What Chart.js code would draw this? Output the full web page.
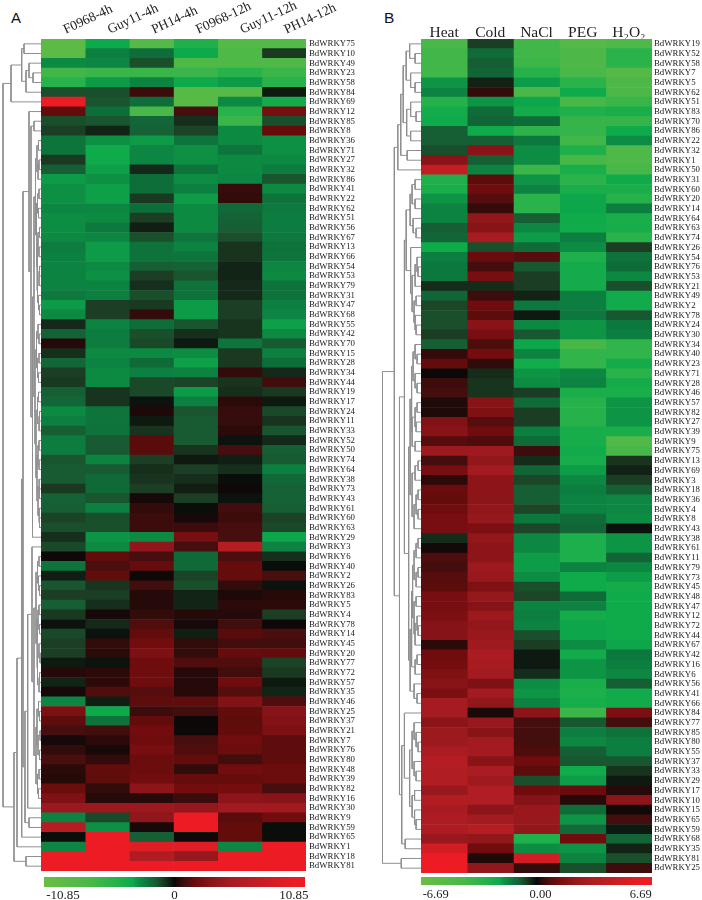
<!DOCTYPE html>
<html lang="en">
<head>
    <meta charset="UTF-8">
    <title>BdWRKY expression heatmaps</title>
    <script src="https://cdn.jsdelivr.net/npm/chart.js"></script>
    <style>
        html, body { margin: 0; background: #fff; width: 702px; height: 900px; overflow: hidden; }
        canvas { position: absolute; }
        .letter { position: absolute; font-family: "Liberation Sans", sans-serif; color: #111; }
    </style>
</head>
<body>
<div class="letter" style="left:11px;top:9px;font-size:15px">A</div>
<div class="letter" style="left:384px;top:9px;font-size:15.5px">B</div>
<canvas id="dendroA" width="41" height="832" style="left:0;top:39px"></canvas>
<canvas id="heatA" width="316" height="871" style="left:41px;top:0"></canvas>
<canvas id="barA" width="281" height="23" style="left:34px;top:877px"></canvas>
<canvas id="dendroB" width="39" height="834" style="left:382px;top:39px"></canvas>
<canvas id="heatB" width="281" height="873" style="left:421px;top:0"></canvas>
<canvas id="barB" width="251" height="23" style="left:411px;top:877px"></canvas>
<script>
    const columnsA = ['F0968-4h', 'Guy11-4h', 'PH14-4h', 'F0968-12h', 'Guy11-12h', 'PH14-12h'];
    const columnsB = ['Heat', 'Cold', 'NaCl', 'PEG', 'H₂O₂'];

    const genesA = [75, 10, 49, 23, 58, 84, 69, 12, 85, 8, 36, 71, 27, 32, 86, 41, 22, 62, 51, 56, 67, 13, 66, 54, 53, 79, 31, 47, 68, 55, 42, 70, 15, 28, 34, 44, 19, 17, 24, 11, 33, 52, 50, 74, 64, 38, 73, 43, 61, 60, 63, 29, 3, 6, 40, 2, 26, 83, 5, 4, 78, 14, 45, 20, 77, 72, 57, 35, 46, 25, 37, 21, 7, 76, 80, 48, 39, 82, 16, 30, 9, 59, 65, 1, 18, 81];
    const genesB = [19, 52, 58, 7, 5, 62, 51, 83, 70, 86, 22, 32, 1, 50, 31, 60, 20, 14, 64, 63, 74, 26, 54, 76, 53, 21, 49, 2, 78, 24, 30, 34, 40, 23, 71, 28, 46, 57, 82, 27, 39, 9, 75, 13, 69, 3, 18, 36, 4, 8, 43, 38, 61, 11, 79, 73, 45, 48, 47, 12, 72, 44, 67, 42, 16, 6, 56, 41, 66, 84, 77, 85, 80, 55, 37, 33, 29, 17, 10, 15, 65, 59, 68, 35, 81, 25];

    const rangeA = 10.85;
    const rangeB = 6.69;
    // the printed scale labels sit a little inside the bar ends
    const barTicksA = [-9.27, 0, 9.93];
    const barTickTextA = ['-10.85', '0', '10.85'];
    const barTicksB = [-5.84, 0.23, 6.04];
    const barTickTextB = ['-6.69', '0.00', '6.69'];

    // one row per gene
    const valuesA = [
        [-9, -3.5, -8, -4.5, -8, -8], [-9, -2.5, -2, -3.5, -7.5, -0.9], [-2.8, -2.7, -1.3, -7.5, -7.5, -7.5],
        [-6.5, -6, -6, -6, -5, -6], [-5, -3.2, -2.6, -3.5, -3.2, -5], [-1.3, -1.3, 0.8, -8.5, -8.5, -0.3],
        [10.85, -1.4, -2, -8.5, -2.8, -3.8], [1.6, -2, -7, 1, -5, 2.2], [-1.3, -1.4, -1.8, -0.7, -6, -1.3],
        [-1, -0.5, -1.7, -1.1, -2.8, 1.7], [-2.2, -3, -3.2, -2.2, -2.8, -3], [-2.2, -3.6, -2.7, -3, -2.2, -3],
        [-0.9, -3.6, -2.7, -3, -2.8, -2.8], [-1.6, -3.3, -0.6, -2.1, -2.8, -2.4], [-3.2, -3, -2, -2.9, -2.7, -1.4],
        [-3, -3.3, -2, -2.5, 0.7, -2.8], [-3, -3.3, -0.9, -3.2, 0.6, -2.1], [-2.7, -2.7, -2, -2.8, -1.9, -2.3],
        [-2.9, -2.8, -1, -2.8, -1.7, -2.4], [-2.9, -2.3, -0.4, -2.8, -1.6, -2.4], [-2.8, -2.7, -1.3, -2.2, -1.3, -2.3],
        [-2.4, -3.2, -2.1, -2.6, -0.8, -2.1], [-2.5, -3.2, -2.1, -2.2, -0.8, -2.2], [-2.6, -2.8, -1.6, -1.7, -0.5, -2.7],
        [-2.6, -3, -1, -1.4, -0.5, -2.8], [-2.6, -2.6, -0.7, -2.1, -0.6, -2.1], [-2.3, -2.5, -1.3, -2.1, -0.6, -2.1],
        [-3.2, -1, -0.9, -3.2, -1, -2.5], [-2.8, -1, 0.6, -3.2, -1, -2.7], [-0.6, -2.6, -2, -1.4, -0.8, -3.3],
        [-1.7, -2.4, -1.3, -0.7, -0.8, -2.8], [0.4, -2.4, -1.2, -0.3, -2.2, -1.5], [-0.7, -2.8, -2.8, -2.9, -0.9, -2.5],
        [-1.8, -2.6, -1.9, -3.3, -0.9, -2], [-1, -2.8, -2.5, -2.6, 0.6, -0.6], [-0.9, -2.8, -1.2, -1.1, -0.8, 0.9],
        [-1.6, -0.8, -1.2, -3.2, -0.7, -0.9], [-1.8, -0.8, -0.2, -2.5, 0.5, -0.3], [-2.8, -2.2, 0.3, -1.4, 0.7, -1.2],
        [-2.5, -2.2, -0.3, -1.5, 0.7, -0.8], [-1.6, -2.1, -0.8, -1.5, 0.5, -1.4], [-2.4, -1.5, 1.4, -1.5, -0.2, -0.6],
        [-2.4, -1.5, 1.4, -0.8, 1, -1.6], [-1.4, -2.6, -1, -0.3, -0.4, -1.5], [-1.5, -1.5, -0.7, -1, -0.7, -2.5],
        [-1.5, -1.9, -0.8, -0.7, -0.1, -1.9], [-0.9, -1.9, -1, -0.4, 0.1, -1.7], [-1.7, -1.4, 0.2, -1, -0.2, -1.7],
        [-1.6, -2.5, 0.6, -0.1, 0.9, -1.6], [-1.1, -1.3, 0.8, 0.2, 0.8, -1.1], [-1.3, -1.3, 0.8, 0.8, 1, -1.2],
        [-0.7, -3.1, -2.8, 2.2, 1, -3.4], [-1.2, -2.8, 3.5, 1, 5.8, -2.6], [0.1, 1.6, 1, -1.9, 1.1, -0.7],
        [-2.2, 1.1, 1.7, -1.9, 1.7, -0.1], [-0.4, 1.6, 0.1, -1.1, 1.7, 1.1], [-1.4, -0.8, 0.9, -1.3, 0.6, -0.2],
        [-1, -1, 0.4, -0.5, 0.3, 0.4], [-1.6, -0.7, 0.4, -0.5, 0.5, 0.5], [-0.9, 0.2, 0.6, 0.4, 0.4, -1],
        [-0.2, -0.6, 1.2, 0.2, 0.9, 0.1], [-1.2, -0.2, 1.6, -0.4, 1.4, 1.1], [-1, 0.6, 2, 0.6, 0.9, 0.9],
        [-1, 0.5, 2.5, 0.6, 1.7, 1.6], [-0.3, -0.2, 1.9, 1.2, 1.2, -1.1], [0.4, 0.5, 1.9, 0.4, 0.9, -0.9],
        [-0.5, 0.5, 1.9, 0.4, 1.9, -0.3], [0.2, 1.2, 1.3, 0.4, 1.3, -0.5], [-2.7, -0.4, 1.5, 1.5, 2.8, 1.2],
        [2.5, -3.5, 0.8, 0.9, 1.6, 3], [1.5, -2.1, 1.6, 0.05, 1.5, 2.8], [1, 0.9, 2, 0.1, 1.6, 2.5],
        [0.2, 0.5, 1.9, 1, 2, 1.5], [0.6, 0.2, 2.3, 1.2, 1.8, 1.5], [1.1, 0.6, 1.8, 1.6, 0.9, 1.5],
        [0.5, 1.6, 1.8, 0.6, 2, 1.8], [0.4, 1.5, 2, 1.7, 1.7, 1.8], [1.8, 0.6, 3.3, 2, 2.1, 1],
        [2.6, 0.4, 0.4, 0.8, 3.2, 3], [4, 4, 4, 3.7, 4.5, 4.5], [-2.6, -1.2, 3.4, 10.85, 1.4, 2],
        [6, -3, 0.2, 10.85, 1.6, -0.1], [-0.1, 10.85, -1.6, 0.1, 1.6, -0.1], [-2.7, 10.85, 9, 9, -2.7, 10.85],
        [10.85, 10.85, 5.5, 3.8, 10.85, 10.85], [10.85, 10.85, 10.85, 10.85, 10.85, 10.85]
    ];
    const valuesB = [
        [-4.3, -0.6, -4, -5, -4.6], [-4, -1.2, -4, -4.5, -3.2], [-4, -1, -3.8, -4.5, -3.2], [-4, -1.1, -3, -4.3, -5],
        [-1.9, -0.3, -2, -3.2, -4.5], [-1.6, 0.4, -4.3, -2.2, -4.5], [-3, -1.9, -2.1, -4.2, -3.7], [-2.4, -1.2, -2.4, -2.8, -2.6],
        [-2.2, -1.1, -1.2, -3.6, -3.6], [-1, -2.2, -3.3, -3.5, -2.2], [-1, -1, -1.4, -4, -1.8], [-0.8, 1.9, -1.8, -2.8, -4.6],
        [1.9, -1, -1.8, -4.2, -4.6], [4.3, -1.6, -3.8, -2.6, -4.2], [-2.8, 0.9, -1.9, -3.2, -2.2], [-2.6, 1.2, -1.6, -2.6, -2.6],
        [-1.9, 0.8, -3.2, -2.1, -3], [-1.6, 0.4, -3.2, -2.1, -1.5], [-1.6, 2.2, -1, -2.2, -2.6], [-1, 1.9, -1.7, -2.3, -2.5],
        [-1.1, 3, -2, -1.5, -3.2], [-2.2, -0.8, -1.2, -1.8, -0.6], [-1.5, 1.1, 0.8, -2.8, -1.3], [-1.4, 0.6, -0.9, -2.4, -1.2],
        [-1.4, 1.4, -0.6, -2.4, -1.7], [-0.4, -0.4, -0.6, -2.4, -0.8], [-1.1, 0.5, -0.3, -1.5, -2.3], [-0.7, 1.2, -1.4, -1.5, -2.3],
        [-0.8, 0.9, -0.2, -1.4, -0.9], [-0.8, 1.9, -1.7, -1.9, -1.4], [-0.6, 1.4, -0.9, -1.9, -1.5], [-1, 0.7, -2.1, -4.2, -3.4],
        [0.4, 1.3, -1.6, -3.4, -3.4], [1, 0.35, -2.4, -3.4, -2.4], [0.03, -0.4, -1.9, -1.7, -3.2], [0.5, -0.5, -1.8, -1.6, -2.4],
        [0.6, -0.5, -0.6, -2.6, -2.6], [0.2, 1.9, -1.2, -3, -1.9], [0.2, 1.6, -0.6, -3, -1.9], [1.7, 0.8, -0.6, -3, -1.9],
        [1.9, 1.2, -1.5, -2.5, -2.6], [0.8, 0.7, -1.2, -2.5, -4.8], [2.5, 2.6, 0.5, -2.3, -4.2], [0.6, 2.2, -0.4, -2.5, -0.5],
        [1.4, 2.8, -1.1, -2, -0.3], [0.3, 2, -0.7, -1.7, -0.6], [1.1, 2, -1, -1.5, -1], [1, 2, -1, -1.6, -1.7],
        [1.2, 2.2, -0.7, -1.6, -1.7], [1.4, 2.3, -1.4, -1.2, -1.8], [1.4, 1.5, -0.7, -1.1, -0.1], [-0.4, 2.2, -1.7, -2.7, -1.9],
        [0.1, 2, -1.7, -2.7, -1.9], [0.7, 2, -2, -2.7, -1.1], [0.6, 2.5, -2, -1.6, -1.7], [0.8, 2.4, -1.8, -2.2, -2],
        [0.9, 1.6, -0.8, -2.2, -2.4], [1.4, 2.3, -0.7, -1.2, -2.2], [1.4, 1.8, -1.6, -1.6, -2.2], [1.5, 2.5, -1.5, -2.4, -2.2],
        [1.8, 2.2, -1.6, -2.1, -2.2], [1.8, 2.4, -0.8, -2.1, -2.2], [0.3, 2.6, -0.6, -1.8, -2.1], [1.2, 3.1, -0.2, -2.3, -1.4],
        [1.3, 2.9, -0.2, -1.9, -1.5], [1.6, 2.8, -0.4, -1.9, -1.7], [1.9, 1.6, -1.8, -2.6, -1], [1.5, 2.8, -1.9, -2.7, -2.3],
        [2.9, 2.2, -1.6, -2.5, -2.3], [2.9, 0.15, 2, -3.8, 1.5], [2, 2.4, 0.6, -0.9, 0.6], [2.5, 1.9, 0.6, -1.5, -1.3],
        [2.5, 2.8, 0.6, -1.7, -1.5], [3.1, 2.8, 0.7, -1, -1.5], [3.6, 1.9, 1.2, -0.9, -0.9], [3.4, 3.1, 0.9, -2.3, -0.5],
        [3.5, 2.6, -0.8, -2, -0.2], [2.4, 3.4, 1.2, 1.1, 0.25], [3.5, 3.4, 1.8, 0.25, 2], [3, 2, 2.4, -1.2, 0.1],
        [3.2, 2.8, 2.4, -1.9, 0.6], [3.3, 3.6, 2.2, -1.2, -0.2], [2.4, 2.2, -2.8, 1.2, -1.1], [5, 1.2, -1.8, -1.9, -0.3],
        [6.69, 0.2, 5, -1.6, -0.8], [6.69, 2.2, 0.4, -0.8, 0.5]
    ];

    // cluster trees: [distance, first child, second child], 0 is a leaf (next row down)
    const treeTopA = [30, [19.3, [17, 0, 0], [15, [12, 0, [8, 0, 0]], 0]], 0];
    const treeS1A = [5.5, [4, [2.5, 0, 0], [3, [2, 0, 0], 0]], [4.5, [3.5, [2, 0, 0], [2.5, 0, 0]], [4, [3, [1.5, 0, 0], [2, 0, 0]], [3.5, [2, [1.5, 0, 0], 0], [2.5, 0, [1.5, 0, 0]]]]]];
    const treeS2A = [6, [4.5, [3, 0, [2, 0, 0]], [3.5, [2, 0, 0], [2.5, 0, 0]]], [5, [3.5, [2.5, 0, 0], [2, [1.5, 0, 0], 0]], [4, [3, [2, 0, 0], [2, 0, 0]], [3, [2, 0, [1.5, 0, 0]], [2, 0, [1.5, 0, 0]]]]]];
    const treeQ1A = [5, [3.5, [2, 0, 0], [2.5, 0, [1.5, 0, 0]]], [4, [3, [2, 0, 0], [1.5, 0, 0]], [3.5, [2, 0, [1, 0, 0]], [2, [1.5, 0, 0], 0]]]];
    const treeQ2A = [5, [4, [2.5, 0, [1.5, 0, 0]], [3, [1, 0, 0], [1.5, 0, 0]]], [3.5, [2, 0, 0], [2.5, 0, 0]]];
    const treeMidA = [18,
        [12, 0, [10, [7, 0, 0], [8.5, [7, treeS1A, treeS2A], 0]]],
        [16, [13.3, [9, 0, [7, treeQ1A, treeQ2A]], 0], [12, 0, 0]]];
    const treeA = [38, treeTopA, [27, [24, [19.3, treeMidA, 0], 0], [15, 0, 0]]];

    const treeTopB = [23.5, [20.5, [18,
        [15, [11.5, 0, [6, 0, 0]], [10.5, 0, [6, 0, 0]]],
        [14.5, [10.5, 0, [5, 0, 0]], [10.5, 0, 0]]], [14, 0, 0]], 0];
    const treeC1B = [15, [11, [9, [6, 0, 0], [6, 0, 0]], [8, 0, [5, 0, 0]]],
        [10.5, 0, [9, [6, [4, 0, [3, 0, 0]], 0], [7, [5, 0, 0], [6, 0, [5, 0, 0]]]]]];
    const treeC2aB = [11, [9.5, [8, [6, 0, [4, 0, 0]], [6, 0, [4, 0, 0]]], [9, [6, [4, 0, 0], [5, 0, 0]], [6, 0, 0]]],
        [9, [6, [3, 0, 0], 0], [7, [5, [3, 0, 0], [3, 0, 0]], 0]]];
    const treeC2bB = [11, [9.5, [8.5, [7, [5, [3, 0, 0], 0], [5, [3, 0, 0], 0]], [7, [5, 0, 0], [6, [4, 0, [3, 0, 0]], 0]]], [6, [4, 0, 0], 0]], [7, 0, [4, 0, 0]]];
    const treeBotB = [19.5, [16.8, 0, [11.5, [9, [7, 0, [5, 0, [3, 0, 0]]], [7, 0, [5, 0, 0]]], [9, [6.5, 0, 0], [6.5, 0, [5, 0, 0]]]]], [16, 0, 0]];
    const treeB = [39, [27, treeTopB, [21.8, [16.8, treeC1B, [12.5, treeC2aB, treeC2bB]], treeBotB]], [20, 0, 0]];

    const serif = 'Liberation Serif';
    // colour scale as [fraction of range, r, g, b]
    const colorStops = [
        [-1, 106, 189, 69], [-0.65, 75, 184, 72], [-0.46, 40, 178, 75], [-0.32, 13, 170, 75], [-0.277, 13, 144, 68],
        [-0.23, 12, 128, 64], [-0.184, 14, 110, 58], [-0.138, 24, 90, 50], [-0.092, 28, 62, 36], [-0.046, 18, 36, 22],
        [0, 8, 8, 8], [0.046, 45, 10, 10], [0.092, 70, 14, 14], [0.138, 95, 12, 12], [0.184, 115, 12, 14],
        [0.277, 135, 20, 24], [0.37, 155, 25, 30], [0.46, 170, 28, 33], [0.65, 195, 30, 36], [0.92, 237, 28, 36], [1, 237, 28, 36]
    ];

    function colorFor(v, range) {
        const t = Math.max(-1, Math.min(1, v / range));
        let i = 0;
        while (i < colorStops.length - 2 && colorStops[i + 1][0] < t) i++;
        const a = colorStops[i], b = colorStops[i + 1];
        const f = (t - a[0]) / (b[0] - a[0]);
        const c = [1, 2, 3].map(k => Math.round(a[k] + (b[k] - a[k]) * f));
        return `rgb(${c[0]},${c[1]},${c[2]})`;
    }

    function fixBox(axis, size) {
        if (axis.isHorizontal()) axis.height = size; else axis.width = size;
        axis.paddingLeft = axis.paddingRight = axis.paddingTop = axis.paddingBottom = 0;
    }

    function drawHeat(id, columns, genes, rows, range, opts) {
        new Chart(document.getElementById(id), {
            type: 'bar',
            data: {
                labels: genes.map(n => 'BdWRKY' + n),
                datasets: columns.map((name, c) => ({
                    label: name,
                    data: rows.map(() => 1),
                    backgroundColor: rows.map(r => colorFor(r[c], range)),
                    borderWidth: 0,
                    barPercentage: 1,
                    categoryPercentage: 1
                }))
            },
            options: {
                indexAxis: 'y',
                responsive: false,
                animation: false,
                plugins: {legend: {display: false}, tooltip: {enabled: false}},
                scales: {
                    x: {
                        type: 'linear',
                        stacked: true,
                        position: 'top',
                        min: 0,
                        max: columns.length,
                        grid: {display: false, drawTicks: false},
                        border: {display: false},
                        afterBuildTicks: axis => { axis.ticks = columns.map((_, i) => ({value: i + 0.5})); },
                        afterFit: axis => fixBox(axis, 39),
                        ticks: {
                            autoSkip: false,
                            minRotation: opts.rotation,
                            maxRotation: opts.rotation,
                            padding: opts.headPadding,
                            labelOffset: opts.headShift,
                            color: '#222',
                            font: {family: serif, size: opts.headSize},
                            callback: (v, i) => columns[i]
                        }
                    },
                    y: {
                        stacked: true,
                        position: 'right',
                        grid: {display: false, drawTicks: false},
                        border: {display: false},
                        afterFit: axis => fixBox(axis, opts.labelBox),
                        ticks: {
                            autoSkip: false,
                            padding: opts.labelPadding,
                            color: '#222',
                            font: {family: serif, size: 8.8}
                        }
                    }
                }
            }
        });
    }

    function drawDendro(id, tree, maxDist) {
        const pts = [];
        let row = 0;
        const walk = node => {
            if (node === 0) return {d: 0, y: row++ + 0.5};
            const a = walk(node[1]);
            const b = walk(node[2]);
            pts.push({x: a.d, y: a.y}, {x: node[0], y: a.y}, {x: node[0], y: b.y}, {x: b.d, y: b.y}, {x: null, y: null});
            return {d: node[0], y: (a.y + b.y) / 2};
        };
        walk(tree);
        new Chart(document.getElementById(id), {
            type: 'scatter',
            data: {datasets: [{data: pts, showLine: true, spanGaps: false, pointRadius: 0, borderWidth: 1, borderColor: '#8f8f8f'}]},
            options: {
                responsive: false,
                animation: false,
                plugins: {legend: {display: false}, tooltip: {enabled: false}},
                scales: {
                    x: {display: false, min: 0, max: maxDist, reverse: true},
                    y: {display: false, min: 0, max: row, reverse: true}
                }
            }
        });
    }

    function drawBar(id, range, tickVals, tickText, barHeight, sidePad, fontSize, tickPad) {
        new Chart(document.getElementById(id), {
            type: 'bar',
            data: {
                labels: [''],
                datasets: [{
                    data: [[-range, range]],
                    borderWidth: 0,
                    barPercentage: 1,
                    categoryPercentage: 1,
                    backgroundColor: ctx => {
                        const chart = ctx.chart;
                        const grad = chart.ctx.createLinearGradient(sidePad, 0, chart.width - sidePad, 0);
                        colorStops.forEach(s => grad.addColorStop((s[0] + 1) / 2, `rgb(${s[1]},${s[2]},${s[3]})`));
                        return grad;
                    }
                }]
            },
            options: {
                indexAxis: 'y',
                responsive: false,
                animation: false,
                layout: {padding: {left: sidePad, right: sidePad}},
                plugins: {legend: {display: false}, tooltip: {enabled: false}},
                scales: {
                    y: {display: false},
                    x: {
                        type: 'linear',
                        min: -range,
                        max: range,
                        grid: {display: false, drawTicks: false},
                        border: {display: false},
                        afterBuildTicks: axis => { axis.ticks = tickVals.map(v => ({value: v})); },
                        afterFit: axis => fixBox(axis, 23 - barHeight),
                        ticks: {
                            autoSkip: false,
                            maxRotation: 0,
                            padding: tickPad,
                            color: '#222',
                            font: {family: serif, size: fontSize},
                            callback: (v, i) => tickText[i]
                        }
                    }
                }
            }
        });
    }

    drawDendro('dendroA', treeA, 41);
    drawDendro('dendroB', treeB, 39.5);
    drawHeat('heatA', columnsA, genesA, valuesA, rangeA, {rotation: 25, headSize: 13.5, headPadding: 1, headShift: 8, labelBox: 51, labelPadding: 3});
    drawHeat('heatB', columnsB, genesB, valuesB, rangeB, {rotation: 0, headSize: 15.5, headPadding: -3, headShift: 0, labelBox: 50, labelPadding: 2});
    drawBar('barA', rangeA, barTicksA, barTickTextA, 10, 10, 13, 1);
    drawBar('barB', rangeB, barTicksB, barTickTextB, 8, 10, 12.5, 2);
</script>
</body>
</html>
